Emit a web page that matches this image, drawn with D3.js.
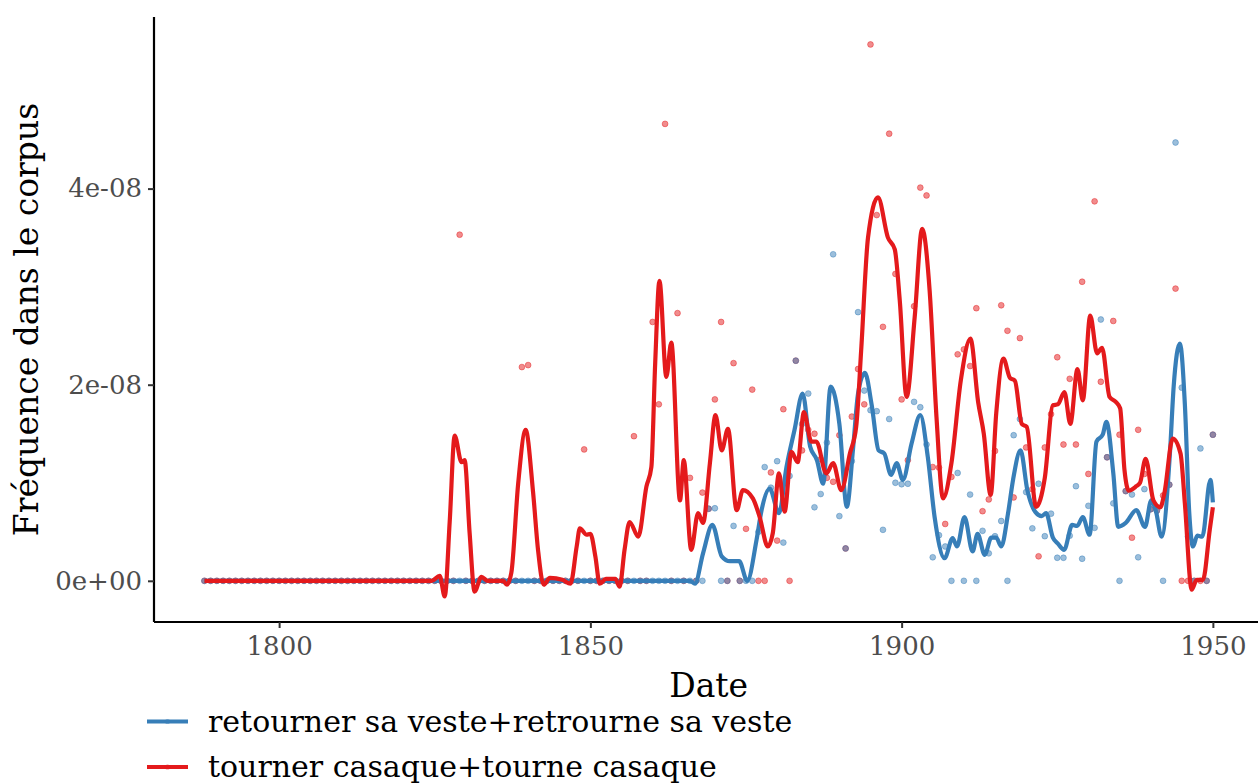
<!DOCTYPE html>
<html>
<head>
<meta charset="utf-8">
<script src="https://cdn.jsdelivr.net/npm/d3@7"></script>
<style>
  body { margin: 0; background: #fff; }
  text { font-family: "DejaVu Serif", serif; }
</style>
</head>
<body>
<svg id="chart" width="1258" height="783"></svg>
<script>
// years of the corpus
var years = d3.range(1788, 1951);

// yearly frequencies, in units of 1e-9
var veste = [
    0, 0,
    0, 0, 0, 0, 0, 0, 0, 0, 0, 0,
    0, 0, 0, 0, 0, 0, 0, 0, 0, 0,
    0, 0, 0, 0, 0, 0, 0, 0, 0, 0,
    0, 0, 0, 0, 0, 0, 0, 0, 0, 0,
    0, 0, 0, 0, 0, 0, 0, 0, 0, 0,
    0, 0, 0, 0, 0, 0, 0, 0, 0, 0,
    0, 0, 0, 0, 0, 0, 0, 0, 0, 0,
    0, 0, 0, 0, 0, 0, 0, 0, 0, 7.35,
    7.4, 0, 0, 5.6, 0, 0, 0, 5, 11.6, 9.5,
    12.2, 3.9, 10.7, 22.45, 16, 19.1, 7.5, 8.85, 14.1, 33.3,
    6.6, 3.3, 12.2, 27.4, 19.4, 17.4, 17.3, 5.2, 16.5, 10.0,
    9.85, 9.9, 18.25, 17.7, 13.9, 2.4, 4.65, 3.5, 0, 11.0,
    0, 8.8, 0, 5.1, 2.8, 4.55, 6.1, 0, 14.85, 16.5,
    9.05, 5.35, 9.9, 4.55, 6.85, 2.35, 2.35, 4.6, 9.65, 2.25,
    7.65, 5.4, 26.65, 12.6, 7.9, 0, 9.15, 8.8, 2.4, 9.35,
    7.3, 7.15, 0, 9.8, 44.7, 19.7, 4.5, 0, 13.5, 0,
    14.9
];

var casaque = [
    0, 0,
    0, 0, 0, 0, 0, 0, 0, 0, 0, 0,
    0, 0, 0, 0, 0, 0, 0, 0, 0, 0,
    0, 0, 0, 0, 0, 0, 0, 0, 0, 0,
    0, 0, 0, 0, 0, 0, 0, 0, 0, 35.3,
    0, 0, 0, 0, 0, 0, 0, 0, 0, 21.8,
    22.0, 0, 0, 0, 0, 0, 0, 0, 0, 13.4,
    0, 0, 0, 0, 0, 0, 0, 14.75, 0, 0,
    26.4, 18.0, 46.6, 0, 27.3, 0, 10.5, 0, 9.0, 7.35,
    18.5, 26.4, 0, 22.2, 0, 5.3, 19.5, 0, 0, 11.05,
    4.1, 17.5, 0, 22.45, 13.3, 15.4, 15.0, 12.4, 10.5, 10.1,
    14.85, 3.3, 16.75, 21.6, 18.0, 54.7, 37.3, 25.9, 45.6, 31.3,
    18.5, 12.3, 28.0, 40.1, 39.3, 11.6, 11.55, 5.8, 10.6, 23.1,
    23.6, 21.9, 27.8, 7.1, 8.3, 13.25, 28.1, 25.5, 8.5, 24.75,
    13.6, 9.35, 2.5, 13.6, 17.0, 22.8, 13.9, 20.6, 13.9, 30.5,
    10.9, 38.7, 20.3, 12.6, 26.5, 14.9, 9.15, 4.4, 15.4, 10.9,
    7.3, 7.15, 8.7, 9.8, 29.8, 0, 0, 0, 0, 0,
    14.9
];

// smoothed curves: [year, value in 1e-9]
var vesteSmooth = [
    [1788, 0], [1866, 0], [1866.8, -0.3], [1868.1, 2.8], [1869.6, 5.7], [1871.1, 2.5],
    [1872.4, 2.0], [1873.9, 2.0], [1875.2, 0.0], [1876.7, 4.2], [1877.5, 7.2], [1878.8, 9.4],
    [1880.3, 6.9], [1881.5, 11.6], [1882.8, 15.4], [1884.1, 19.1], [1885.3, 13.7], [1886.4, 12.3],
    [1887.4, 9.9], [1888.6, 19.8], [1890.0, 16.0], [1891.2, 7.55], [1892.2, 13.5], [1893.0, 19.1],
    [1894.1, 21.2], [1895.2, 17.9], [1896.3, 13.3], [1897.2, 13.0], [1898.3, 10.8], [1899.2, 12.0],
    [1900.2, 10.3], [1901.6, 14.0], [1903.0, 16.9], [1904.2, 12.65], [1905.3, 6.5], [1906.9, 2.3],
    [1908.2, 4.35], [1908.9, 3.5], [1910.1, 6.5], [1911.4, 3.0], [1912.2, 4.8], [1913.35, 2.65],
    [1914.4, 4.4], [1915.2, 4.4], [1916.0, 3.5], [1917.1, 6.9], [1917.9, 10.3], [1919.1, 13.3],
    [1920.2, 9.25], [1921.5, 7.0], [1922.5, 6.6], [1923.2, 6.9], [1924.3, 4.4], [1925.1, 3.8],
    [1926.1, 3.15], [1927.4, 5.7], [1928.2, 5.6], [1929.1, 6.5], [1930.2, 4.7], [1931.3, 14.2],
    [1932.3, 14.9], [1932.9, 16.2], [1934.0, 11.0], [1934.8, 5.5], [1936.0, 5.9], [1937.7, 7.2],
    [1939.1, 5.5], [1940.1, 8.2], [1940.85, 7.1], [1941.75, 4.5], [1943.1, 13], [1943.7, 19.8],
    [1944.7, 24.2], [1945.5, 18], [1946.2, 7], [1946.8, 3.5], [1947.5, 4.6], [1948.3, 4.5],
    [1949.6, 10.3], [1950, 8]
];

var casaqueSmooth = [
    [1788, 0], [1824.5, 0], [1825.8, 0.5], [1826.6, -1.6], [1827.4, 6], [1828.2, 14.8],
    [1829.3, 12.1], [1829.8, 12.3], [1830.6, 4.9], [1831.4, -1.1], [1832.5, 0.4], [1833.5, 0],
    [1836, 0], [1836.6, -0.4], [1837.3, 0.8], [1838.4, 9.9], [1839.6, 15.4], [1840.8, 9.0],
    [1841.6, 3.1], [1842.5, -0.4], [1843.5, 0.3], [1845.5, 0.1], [1846.8, -0.3], [1847.8, 3.5],
    [1848.3, 5.35], [1849.4, 4.7], [1850.0, 4.8], [1850.8, 2.5], [1851.5, -0.3], [1852.5, 0.2],
    [1854.0, 0.2], [1854.7, -0.6], [1855.5, 3.2], [1856.3, 6.0], [1857.7, 4.5], [1859.0, 9.6],
    [1859.8, 11.6], [1860.4, 22], [1861.1, 30.6], [1862.2, 20.8], [1863.0, 24.3], [1864.4, 8.2],
    [1865.0, 12.3], [1866.2, 3.15], [1867.3, 6.9], [1868.1, 5.9], [1869.2, 12], [1870.1, 16.9],
    [1871.1, 13.3], [1872.1, 15.5], [1873.5, 7.2], [1874.5, 9.25], [1876.1, 8.4], [1877.2, 6.5],
    [1878.5, 3.5], [1879.3, 4.85], [1880.3, 10.95], [1881.2, 7.05], [1882.3, 13.15], [1883.3, 12.1],
    [1884.3, 17.2], [1885.5, 14.2], [1886.3, 14.2], [1887.9, 10.95], [1889.0, 12.0], [1890.3, 9.25],
    [1891.7, 13.0], [1892.7, 15.7], [1893.5, 23.5], [1894.6, 35.0], [1896.2, 39.1], [1897.8, 35.0],
    [1898.9, 33.8], [1899.7, 28.6], [1900.8, 18.75], [1902.1, 26.9], [1903.3, 35.9], [1904.5, 29.6],
    [1905.6, 16.7], [1906.65, 8.4], [1908.0, 12.0], [1909.5, 20.4], [1911.05, 24.7], [1912.3, 18.2],
    [1913.2, 15.0], [1914.3, 8.75], [1915.2, 17.1], [1916.35, 22.65], [1917.4, 20.7], [1918.2, 20.4],
    [1919.3, 16.0], [1920.1, 15.7], [1921.6, 7.55], [1923.0, 10.5], [1924.3, 17.9], [1925.1, 18.0],
    [1926.15, 19.25], [1927.1, 16.0], [1928.25, 21.6], [1929.1, 18.4], [1930.3, 27.05], [1931.4, 23.2],
    [1932.2, 23.75], [1933.4, 18.75], [1934.4, 18.25], [1935.1, 17.6], [1935.8, 11.3], [1936.5, 9.2],
    [1937.7, 9.65], [1938.3, 10.0], [1939.2, 12.45], [1940.45, 8.2], [1941.55, 7.5], [1942.2, 8.9],
    [1943.55, 14.5], [1944.8, 13.0], [1945.5, 7.9], [1946.6, -0.9], [1947.4, 0.1], [1948.4, 0.1],
    [1949.5, 5.2], [1950, 7.5]
];

var seriesNames = ["retourner sa veste+retrourne sa veste", "tourner casaque+tourne casaque"];
var seriesColors = ["#377EB8", "#E41A1C"];
var xTicks = [1800, 1850, 1900, 1950];
var yTicks = [0, 2e-8, 4e-8];

var UNIT = 1e-9;

var svg = d3.select("#chart");
var margin = { left: 154, top: 17, right: 1263.3, bottom: 622 };

var x = d3.scaleLinear().domain([1779.9, 1958.1]).range([margin.left, margin.right]);
var y = d3.scaleLinear().domain([-4.2e-9, 57.5e-9]).range([margin.bottom, margin.top]);

function sci(v) {
    if (v === 0) return "0e+00";
    var e = Math.floor(Math.log10(Math.abs(v)) + 1e-9);
    var m = Math.round(v / Math.pow(10, e));
    return m + "e" + (e < 0 ? "-" : "+") + String(Math.abs(e)).padStart(2, "0");
}

svg.append("rect").attr("width", 1258).attr("height", 783).attr("fill", "#fff");

// points (red first so overlapping blue points read as purple)
var pointLayer = svg.append("g");
[1, 0].forEach(function(i) {
    var values = i === 0 ? veste : casaque;
    pointLayer.append("g")
        .selectAll("circle")
        .data(values)
        .join("circle")
        .attr("cx", function(d, j) { return x(years[j]); })
        .attr("cy", function(d) { return y(d * UNIT); })
        .attr("r", 2.9)
        .attr("fill", seriesColors[i])
        .attr("fill-opacity", 0.5)
        .attr("stroke", seriesColors[i])
        .attr("stroke-opacity", 0.45)
        .attr("stroke-width", 1);
});

// smoothed lines
var line = d3.line()
    .x(function(d) { return x(d[0]); })
    .y(function(d) { return y(d[1] * UNIT); })
    .curve(d3.curveMonotoneX);

[vesteSmooth, casaqueSmooth].forEach(function(values, i) {
    svg.append("path")
        .datum(values)
        .attr("d", line)
        .attr("fill", "none")
        .attr("stroke", seriesColors[i])
        .attr("stroke-width", 4.2)
        .attr("stroke-linejoin", "round");
});

// axes
var xAxis = svg.append("g")
    .attr("transform", "translate(0," + margin.bottom + ")")
    .call(d3.axisBottom(x).tickValues(xTicks).tickFormat(d3.format("d")).tickSize(6).tickPadding(6));
var yAxis = svg.append("g")
    .attr("transform", "translate(" + margin.left + ",0)")
    .call(d3.axisLeft(y).tickValues(yTicks).tickFormat(sci).tickSize(6).tickPadding(6));

[xAxis, yAxis].forEach(function(ax) {
    ax.select(".domain").attr("stroke", "#000").attr("stroke-width", 2.2);
    ax.selectAll(".tick line").attr("stroke", "#333").attr("stroke-width", 2);
    ax.selectAll(".tick text")
        .attr("fill", "#4D4D4D")
        .style("font-family", "'DejaVu Serif', serif")
        .style("font-size", "26px");
});
xAxis.select(".domain").attr("d", "M" + margin.left + ",0H1258");
yAxis.select(".domain").attr("d", "M0," + margin.top + "V" + margin.bottom);
xAxis.selectAll(".tick text").attr("dy", "0.71em").attr("y", 15);

// titles
svg.append("text")
    .attr("x", (margin.left + margin.right) / 2)
    .attr("y", 697)
    .attr("text-anchor", "middle")
    .style("font-size", "33px")
    .text("Date");

svg.append("text")
    .attr("transform", "translate(38," + (margin.top + margin.bottom) / 2 + ") rotate(-90)")
    .attr("text-anchor", "middle")
    .style("font-size", "33px")
    .text("Fréquence dans le corpus");

// legend
var legend = svg.append("g");
seriesNames.forEach(function(name, i) {
    var ly = 721.5 + i * 45.5;
    legend.append("line")
        .attr("x1", 147).attr("x2", 188)
        .attr("y1", ly).attr("y2", ly)
        .attr("stroke", seriesColors[i])
        .attr("stroke-width", 4.2);
    legend.append("circle")
        .attr("cx", 167.5).attr("cy", ly).attr("r", 2.6)
        .attr("fill", seriesColors[i]).attr("fill-opacity", 0.5);
    legend.append("text")
        .attr("x", 208)
        .attr("y", ly + 10)
        .style("font-size", "30px")
        .text(name);
});
</script>
</body>
</html>
